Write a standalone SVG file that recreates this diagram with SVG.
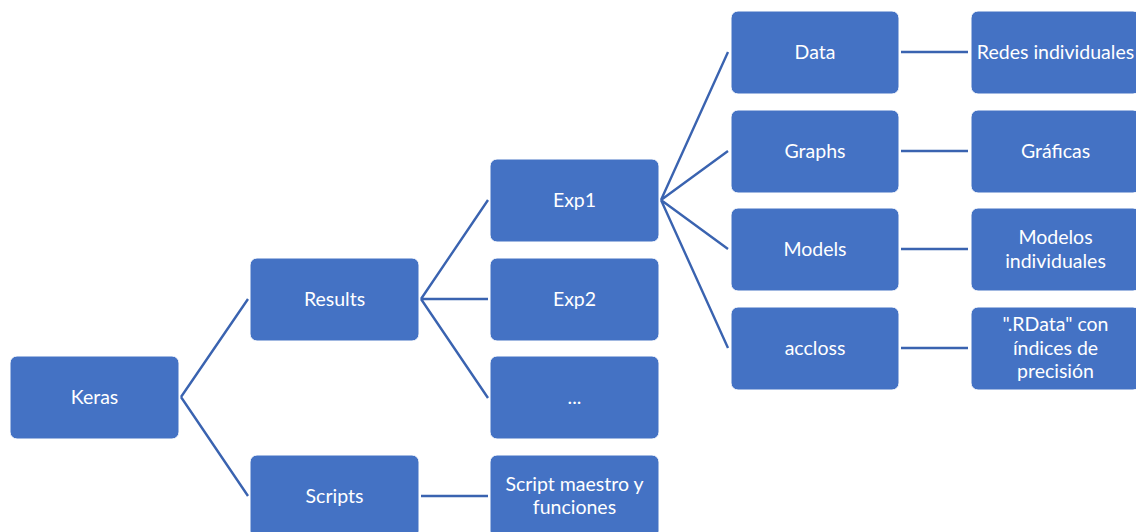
<svg xmlns="http://www.w3.org/2000/svg" width="1136" height="532" viewBox="0 0 1136 532">
<style>
.box{fill:#4472C4;stroke:#ffffff;stroke-width:1}
.t{font-family:Lato,"Open Sans","Liberation Sans",sans-serif;font-size:19.5px;fill:#ffffff;text-anchor:middle}
.c{stroke:#3A63B0;stroke-width:2.4;fill:none}
</style>
<rect width="1136" height="532" fill="#ffffff"/>
<g id="connectors">
<path class="c" d="M181,397 L248,299 M181,397 L248,496"/>
<path class="c" d="M421,299 L488,200 M421,299 L488,299 M421,299 L488,398"/>
<path class="c" d="M661,200 L728,52 M661,200 L728,151 M661,200 L728,249 M661,200 L728,348"/>
<path class="c" d="M901,52 L968,52 M901,151 L968,151 M901,249 L968,249 M901,348 L968,348"/>
<path class="c" d="M421,496 L488,496"/>
</g>
<g id="keras"><rect class="box" x="10" y="356" width="169" height="83" rx="7"/><text class="t" x="94.5" y="404">Keras</text></g>
<g id="results"><rect class="box" x="250" y="258" width="169" height="83" rx="7"/><text class="t" x="334.5" y="306">Results</text></g>
<g id="scripts"><rect class="box" x="250" y="455" width="169" height="83" rx="7"/><text class="t" x="334.5" y="503">Scripts</text></g>
<g id="exp1"><rect class="box" x="490" y="159" width="169" height="83" rx="7"/><text class="t" x="574.5" y="207">Exp1</text></g>
<g id="exp2"><rect class="box" x="490" y="258" width="169" height="83" rx="7"/><text class="t" x="574.5" y="306">Exp2</text></g>
<g id="more"><rect class="box" x="490" y="356" width="169" height="83" rx="7"/><text class="t" x="574.5" y="404">...</text></g>
<g id="script-maestro"><rect class="box" x="490" y="455" width="169" height="83" rx="7"/><text class="t" x="574.5" y="491">Script maestro y</text><text class="t" x="574.5" y="514">funciones</text></g>
<g id="data"><rect class="box" x="731" y="11" width="168" height="83" rx="7"/><text class="t" x="815" y="59">Data</text></g>
<g id="graphs"><rect class="box" x="731" y="110" width="168" height="83" rx="7"/><text class="t" x="815" y="158">Graphs</text></g>
<g id="models"><rect class="box" x="731" y="208" width="168" height="83" rx="7"/><text class="t" x="815" y="256">Models</text></g>
<g id="accloss"><rect class="box" x="731" y="307" width="168" height="83" rx="7"/><text class="t" x="815" y="355">accloss</text></g>
<g id="redes"><rect class="box" x="971" y="11" width="169" height="83" rx="7"/><text class="t" x="1055.5" y="59">Redes individuales</text></g>
<g id="graficas"><rect class="box" x="971" y="110" width="169" height="83" rx="7"/><text class="t" x="1055.5" y="158">Gráficas</text></g>
<g id="modelos"><rect class="box" x="971" y="208" width="169" height="83" rx="7"/><text class="t" x="1055.5" y="244">Modelos</text><text class="t" x="1055.5" y="268">individuales</text></g>
<g id="rdata"><rect class="box" x="971" y="307" width="169" height="83" rx="7"/><text class="t" x="1055.5" y="331">".RData" con</text><text class="t" x="1055.5" y="355">índices de</text><text class="t" x="1055.5" y="378">precisión</text></g>
</svg>
